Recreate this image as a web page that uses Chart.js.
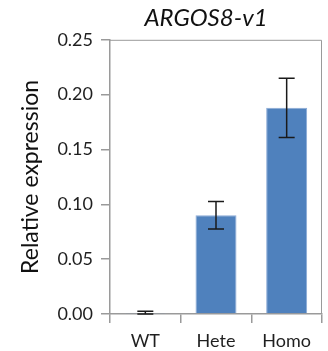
<!DOCTYPE html>
<html>
<head>
<meta charset="utf-8">
<script src="https://cdn.jsdelivr.net/npm/chart.js@4"></script>
<style>
  html, body { margin: 0; padding: 0; background: #fff; }
  #box { width: 328px; height: 351px; }
</style>
</head>
<body>
<div id="box"><canvas id="exprChart"></canvas></div>
<script>
const genotipos = ['WT', 'Hete', 'Homo'];
const expressao = [0.001, 0.090, 0.188];
const erro = [0.0015, 0.0125, 0.027];
const ticksY = [0, 0.05, 0.10, 0.15, 0.20, 0.25];

const corAxis = '#9a9a9a';
const corTexto = '#1f1f1f';

// barras de erro desenhadas com as escalas do grafico
const errorBars = {
    id: 'errorBars',
    afterDatasetsDraw(chart) {
        const ctx = chart.ctx;
        const x = chart.scales.x;
        const y = chart.scales.y;
        ctx.save();
        ctx.strokeStyle = '#1a1a1a';
        ctx.lineWidth = 1.5;
        expressao.forEach((v, i) => {
            const px = x.getPixelForValue(i);
            const top = y.getPixelForValue(v + erro[i]);
            const bot = y.getPixelForValue(Math.max(0, v - erro[i]));
            ctx.beginPath();
            ctx.moveTo(px, top); ctx.lineTo(px, bot);
            ctx.moveTo(px - 8, top); ctx.lineTo(px + 8, top);
            ctx.moveTo(px - 8, bot); ctx.lineTo(px + 8, bot);
            ctx.stroke();
        });
        ctx.restore();
    }
};

// moldura (topo e direita) + titulo centrado sobre a area
const moldura = {
    id: 'moldura',
    afterLayout(chart) {
        if (chart.titleBlock) {
            chart.titleBlock.left = 90;
            chart.titleBlock.right = chart.chartArea.right;
        }
    },
    beforeDatasetsDraw(chart) {
        const a = chart.chartArea;
        const ctx = chart.ctx;
        ctx.save();
        ctx.strokeStyle = corAxis;
        ctx.lineWidth = 1;
        ctx.beginPath();
        ctx.moveTo(a.left, a.top + 0.5);
        ctx.lineTo(a.right - 0.5, a.top + 0.5);
        ctx.lineTo(a.right - 0.5, a.bottom);
        ctx.stroke();
        ctx.restore();
    }
};

function construirGrafico() {
    const ctx = document.getElementById('exprChart').getContext('2d');

    new Chart(ctx, {
        type: 'bar',
        data: {
            labels: genotipos,
            datasets: [{
                data: expressao,
                backgroundColor: '#4f81bd',
                borderColor: '#8aaad6',
                borderWidth: 1,
                categoryPercentage: 1,
                barPercentage: 0.58
            }]
        },
        options: {
            responsive: true,
            maintainAspectRatio: false,
            animation: false,
            layout: { padding: { left: 13, right: 6, top: 0, bottom: 0 } },
            plugins: {
                legend: { display: false },
                tooltip: { enabled: false },
                title: {
                    display: true,
                    text: 'ARGOS8-v1',
                    color: '#111',
                    font: { family: 'Lato', size: 24, style: 'italic', weight: 'normal' },
                    padding: { top: 4, bottom: 7 }
                }
            },
            scales: {
                x: {
                    afterFit: s => { s.height = 37; },
                    border: { color: corAxis, width: 1.5 },
                    grid: { display: true, drawOnChartArea: false, offset: true, tickLength: 9, color: corAxis, lineWidth: 1.5 },
                    ticks: { color: corTexto, font: { family: 'Lato', size: 18 }, padding: 7 }
                },
                y: {
                    min: 0,
                    max: 0.25,
                    afterFit: s => { s.width = 97; },
                    afterBuildTicks: s => { s.ticks = ticksY.map(v => ({ value: v })); },
                    border: { color: corAxis, width: 1.5 },
                    grid: { display: true, drawOnChartArea: false, tickLength: 9, color: corAxis, lineWidth: 1.5 },
                    ticks: { color: corTexto, font: { family: 'Lato', size: 18 }, padding: 8, callback: v => v.toFixed(2) },
                    title: {
                        display: true,
                        text: 'Relative expression',
                        color: '#111',
                        font: { family: 'Lato', size: 23 },
                        padding: { top: 4, bottom: 4 }
                    }
                }
            }
        },
        plugins: [moldura, errorBars]
    });
}

construirGrafico();
</script>
</body>
</html>
